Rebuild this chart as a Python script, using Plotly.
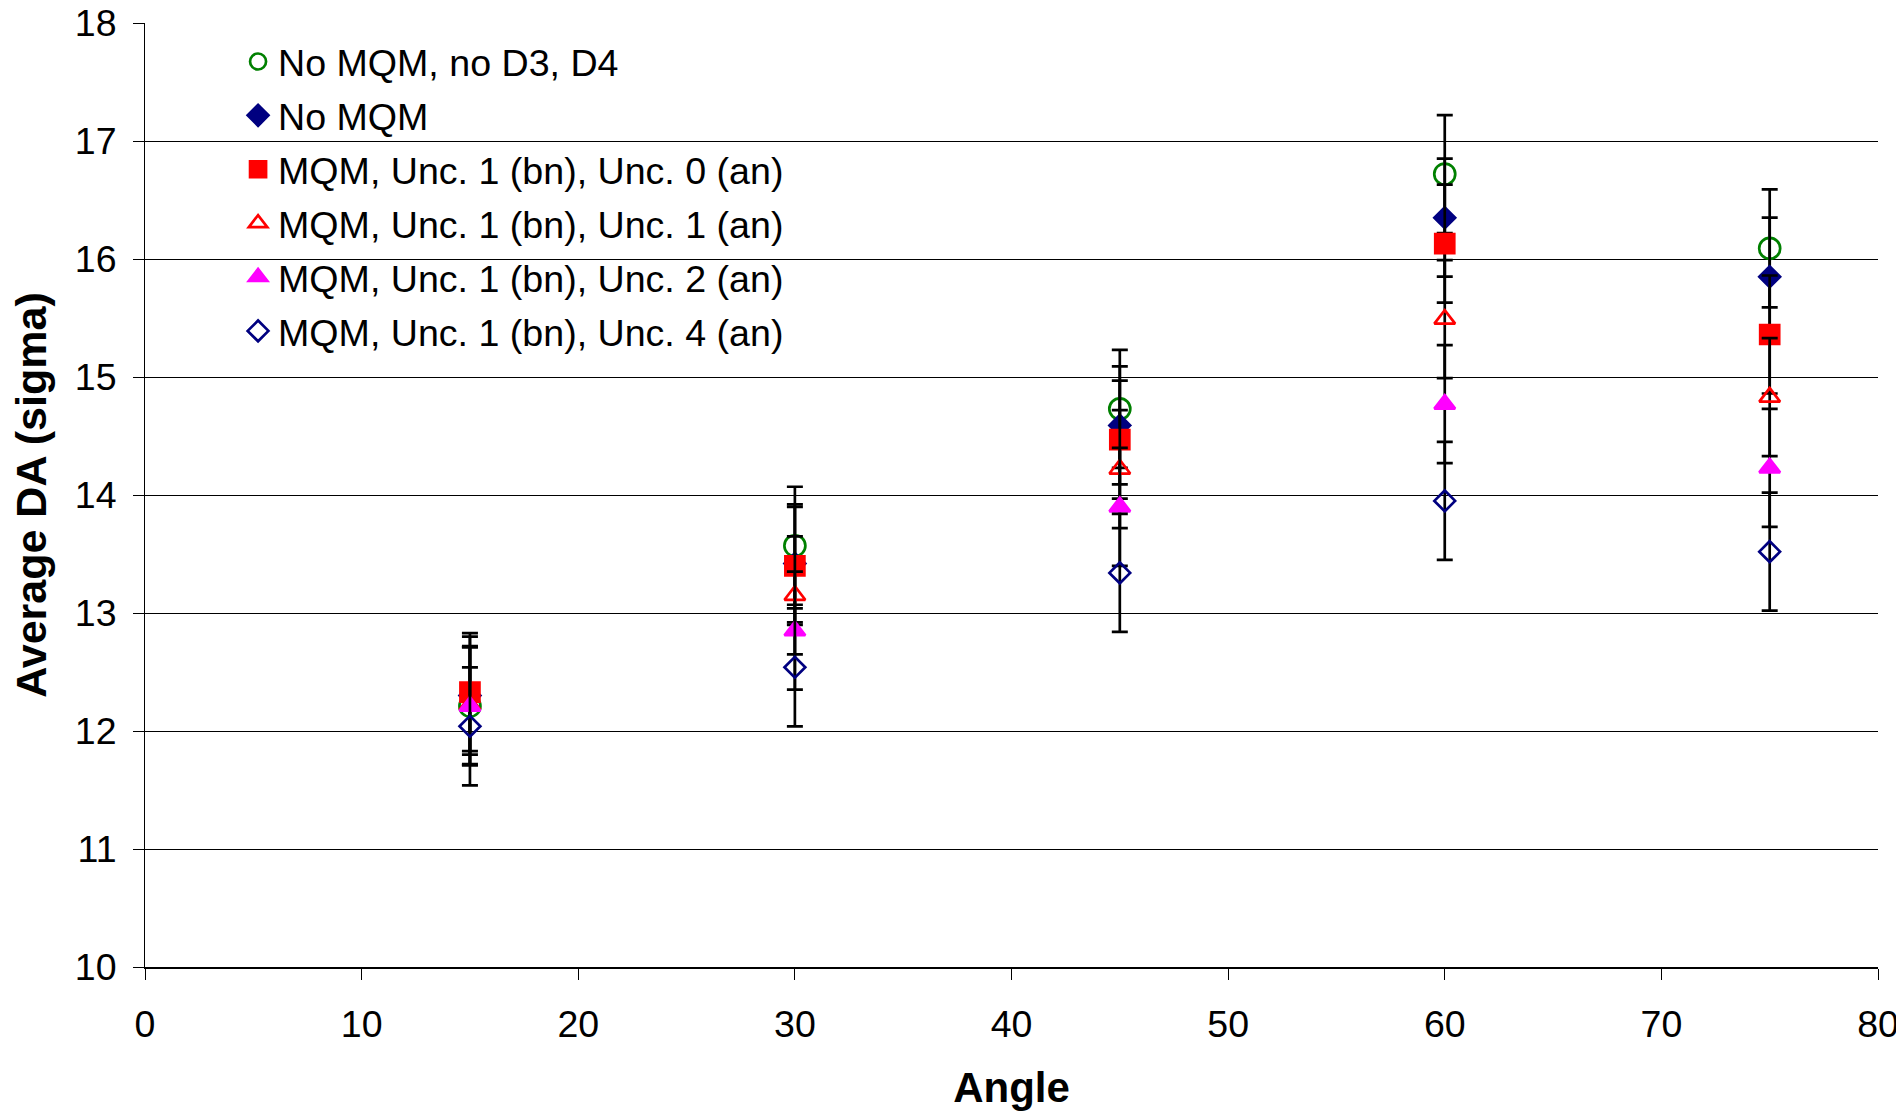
import plotly.graph_objects as go

angles = [15, 30, 45, 60, 75]
no_mqm_no_d3d4 = [12.21, 13.57, 14.73, 16.72, 16.09]
no_mqm = [12.30, 13.42, 14.59, 16.35, 15.85]
mqm_unc0 = [12.33, 13.40, 14.47, 16.13, 15.36]
mqm_unc1 = [12.22, 13.15, 14.22, 15.49, 14.83]
mqm_unc2 = [12.21, 12.85, 13.90, 14.77, 14.23]
mqm_unc4 = [12.04, 12.54, 13.34, 13.95, 13.52]
error = [0.5, 0.5, 0.5, 0.5, 0.5]

series_names = [
    "No MQM, no D3, D4",
    "No MQM",
    "MQM, Unc. 1 (bn), Unc. 0 (an)",
    "MQM, Unc. 1 (bn), Unc. 1 (an)",
    "MQM, Unc. 1 (bn), Unc. 2 (an)",
    "MQM, Unc. 1 (bn), Unc. 4 (an)",
]
series_values = [no_mqm_no_d3d4, no_mqm, mqm_unc0, mqm_unc1, mqm_unc2, mqm_unc4]
symbols = ["circle-open", "diamond", "square", "triangle-up-open", "triangle-up", "diamond-open"]
colors = ["#008000", "#000080", "#FF0000", "#FF0000", "#FF00FF", "#000080"]
sizes = [21, 16, 19, 18, 18, 16]

FONT = "Liberation Sans, Arial, sans-serif"

fig = go.Figure()
for i, (name, vals) in enumerate(zip(series_names, series_values)):
    fig.add_trace(go.Scatter(
        x=angles, y=vals, name=name, mode="markers",
        legendgroup=f"g{i}",
        marker=dict(symbol=symbols[i], color=colors[i], size=sizes[i],
                    line=dict(width=2.7, color=colors[i])),
        error_y=dict(type="data", array=error, visible=True,
                     color="black", thickness=2.7, width=8),
    ))

# white box behind the legend (covers gridlines like the original)
fig.add_shape(type="rect", xref="paper", yref="paper", layer="between",
              x0=0.0223, x1=0.4021, y0=0.64, y1=0.975,
              fillcolor="white", line=dict(width=0))

fig.update_layout(
    width=1896, height=1111,
    margin=dict(l=145, r=18, t=23, b=144, autoexpand=False),
    paper_bgcolor="white", plot_bgcolor="white",
    font=dict(family=FONT, size=37, color="black"),
    showlegend=True,
    legend=dict(x=0.0537, y=0.992, xanchor="left", yanchor="top",
                bgcolor="rgba(0,0,0,0)", font=dict(family=FONT, size=37.6, color="black"),
                traceorder="grouped", tracegroupgap=2, itemsizing="trace"),
    xaxis=dict(range=[0, 80], dtick=10, tick0=0, showgrid=False, zeroline=False,
               showline=True, linecolor="black", linewidth=2,
               ticks="outside", ticklen=11, tickwidth=1, tickcolor="black",
               ticklabelstandoff=12, ticklabeloverflow="allow",
               tickfont=dict(family=FONT, size=37.5),
               title=dict(text="<b>Angle</b>", font=dict(family=FONT, size=42), standoff=39)),
    yaxis=dict(range=[10, 18], dtick=1, tick0=10, showgrid=True, gridcolor="black", gridwidth=1,
               zeroline=False, showline=True, linecolor="black", linewidth=1,
               ticks="outside", ticklen=11, tickwidth=1, tickcolor="black",
               ticklabelstandoff=9, tickfont=dict(family=FONT, size=37.5),
               title=dict(text="<b>Average DA (sigma)</b>", font=dict(family=FONT, size=43), standoff=14)),
)

fig.write_html("out.html", config={"displayModeBar": False},
               post_script="document.body.style.margin='0';document.body.style.overflow='hidden';")
